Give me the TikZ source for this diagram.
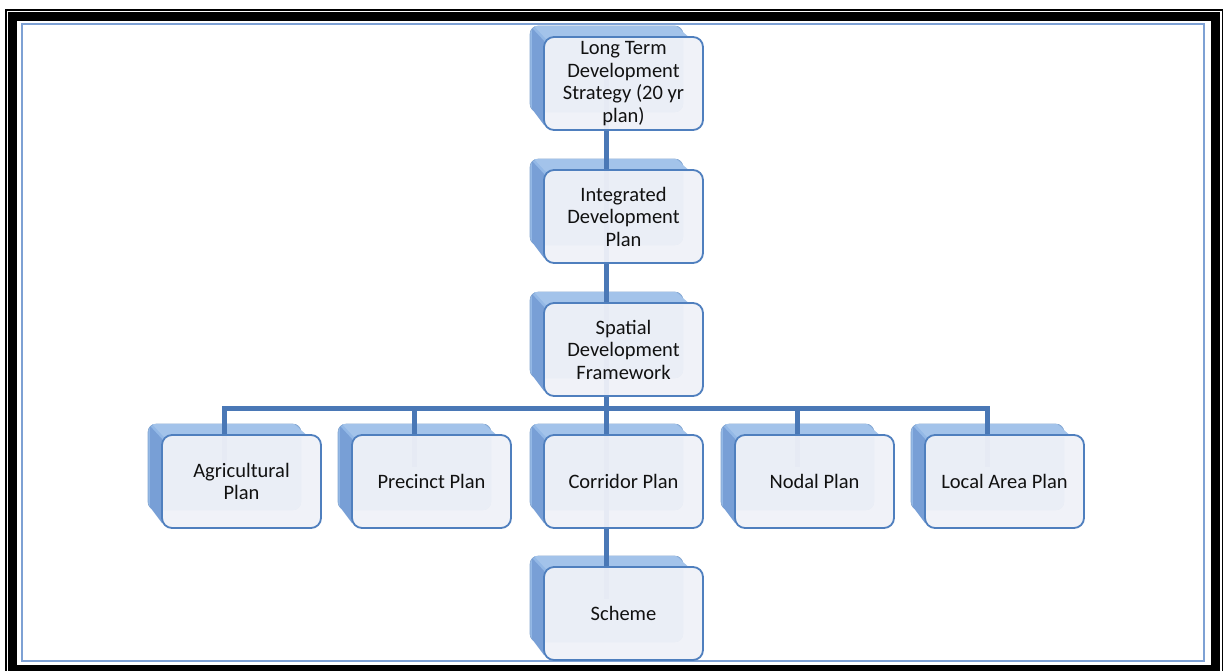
\documentclass[tikz,border=0pt]{standalone}
\usepackage{fontspec}
\setmainfont{Carlito}
\definecolor{backblue}{HTML}{93B8E6}
\definecolor{sideblue}{HTML}{789FD6}
\definecolor{edgeblue}{HTML}{4F7FBE}
\definecolor{frontfill}{HTML}{F0F2F8}
\definecolor{connblue}{HTML}{4A78B6}
\definecolor{frameblue}{HTML}{7EA1D4}
\definecolor{txt}{HTML}{111111}
\tikzset{
  frontbox/.style={draw=edgeblue, line width=1.8pt, fill=frontfill, fill opacity=0.94, text opacity=1,
    rounded corners=10pt, minimum width=159pt, minimum height=93pt, inner sep=0pt,
    align=center, text=txt, font=\fontsize{20.5}{22.5}\selectfont},
  backbox/.style={fill=backblue, draw=backblue!90!black, line width=0.6pt, rounded corners=8pt,
    minimum width=153pt, minimum height=86pt, inner sep=0pt},
  conn/.style={draw=connblue, line width=5pt},
}
% #1 name, #2 drop x, #3 front top y
\newcommand{\tdbox}[3]{%
  \node[backbox] (#1b) at (#2+0.5,#3+32) {};
  \fill[sideblue] (#2-74,#3-9) -- (#2-62,#3+4) -- (#2-62,#3+88) -- (#2-74,#3+72) -- cycle;
  \fill[backblue!85!white] (#2-72,#3-11) -- (#2+70,#3-11) -- (#2+85,#3+2) -- (#2-60,#3+2) -- cycle;
}
% #1 name, #2 drop x, #3 front top y, #4 text
\newcommand{\tdfront}[4]{%
  \node[frontbox] (#1) at (#2+17.5,#3+46.5) {#4};
}
\begin{document}
\begin{tikzpicture}[x=1pt,y=-1pt]
\useasboundingbox (0,0) rectangle (1223,670);
\begin{scope}
\clip (0,0) rectangle (1223,670);
\fill[white] (0,0) rectangle (1223,670);
% frame
\draw[black, line width=2pt] (6,10) rectangle (1223,680);
\draw[black, line width=9pt] (12.5,16.5) rectangle (1215.5,669.5);
\draw[frameblue, line width=2pt] (22,24) rectangle (1204,660.5);
\end{scope}
% back faces
\tdbox{ltd}{606}{37}
\tdbox{idp}{606}{170}
\tdbox{sdf}{606}{303}
\tdbox{agr}{224}{435}
\tdbox{pre}{414}{435}
\tdbox{cor}{606}{435}
\tdbox{nod}{797}{435}
\tdbox{loc}{987}{435}
\tdbox{sch}{606}{567}
% connectors
\coordinate (bus) at (606,408);
\draw[conn] (ltdb.center) -- (idpb.center);
\draw[conn] (idpb.center) -- (sdfb.center);
\draw[conn] (sdfb.center) -- (corb.center);
\draw[conn] (corb.center) -- (schb.center);
\draw[conn, line join=miter] (agrb.center) -- (agrb.center |- bus) -- (locb.center |- bus) -- (locb.center);
\draw[conn] (preb.center |- bus) -- (preb.center);
\draw[conn] (nodb.center |- bus) -- (nodb.center);
% front faces
\tdfront{ltd}{606}{37}{Long Term\\Development\\Strategy (20 yr\\plan)}
\tdfront{idp}{606}{170}{Integrated\\Development\\Plan}
\tdfront{sdf}{606}{303}{Spatial\\Development\\Framework}
\tdfront{agr}{224}{435}{Agricultural\\Plan}
\tdfront{pre}{414}{435}{Precinct Plan}
\tdfront{cor}{606}{435}{Corridor Plan}
\tdfront{nod}{797}{435}{Nodal Plan}
\tdfront{loc}{987}{435}{Local Area Plan}
\tdfront{sch}{606}{567}{Scheme}
\end{tikzpicture}
\end{document}
